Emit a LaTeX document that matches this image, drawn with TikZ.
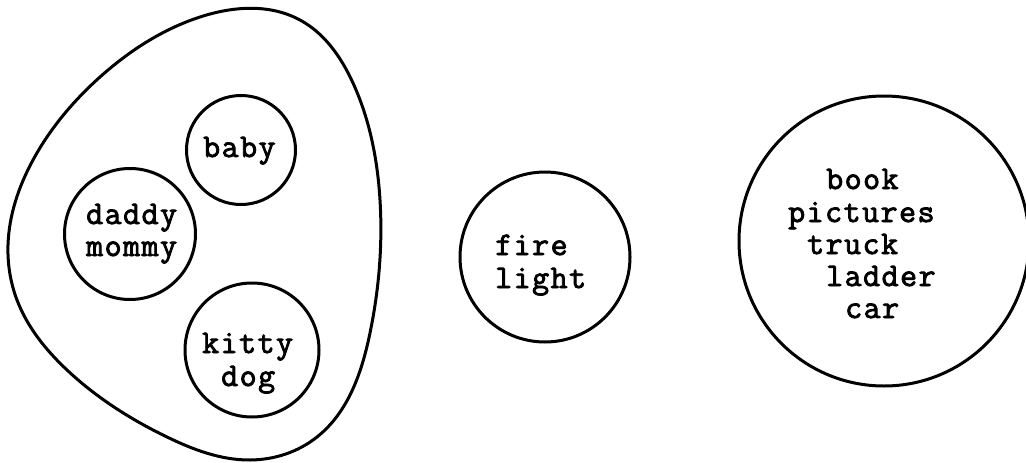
\documentclass[tikz,border=0pt]{standalone}
\usepackage{fontspec}
\usetikzlibrary{hobby}
\newfontfamily\tw{Latin Modern Mono}[FakeBold=2.5, LetterSpace=4.5]
\begin{document}
\begin{tikzpicture}[x=1pt,y=-1pt,
  ring/.style={draw, circle, line width=3pt, inner sep=0pt},
  word/.style={anchor=base west, inner sep=0pt, font=\tw\fontsize{33}{32}\selectfont}]
\useasboundingbox (0,0) rectangle (1026,463);
% egg outline
\draw[line width=3pt, use Hobby shortcut, closed=true]
 (8,245) .. (33,160) .. (100,77) .. (200,17) .. (300,20) .. (353,83)
 .. (380,200) .. (370,333) .. (317,437) .. (250,460) .. (167,437)
 .. (67,370) .. (17,300);
% circles
\node[ring, minimum size=109pt] (baby) at (241,150) {};
\node[ring, minimum size=131pt] (parents) at (130,234) {};
\node[ring, minimum size=134pt] (pets) at (252,350) {};
\node[ring, minimum size=170pt] (fire) at (545,257) {};
\node[ring, minimum size=290pt] (things) at (884,241) {};
% texts
\node[word] (tbaby) at (203,157) {baby};
\node[word] (tdaddy) at (86,224) {daddy};
\node[word] (tmommy) at (86,256) {mommy};
\node[word] (tkitty) at (202,353) {kitty};
\node[word] (tdog) at (221,386) {dog};
\node[word] (tfire) at (495,255) {fire};
\node[word] (tlight) at (495,288) {light};
\node[word] (tbook) at (826,189) {book};
\node[word] (tpictures) at (788,222) {pictures};
\node[word] (ttruck) at (807,254) {truck};
\node[word] (tladder) at (826,286) {ladder};
\node[word] (tcar) at (845,318) {car};
\end{tikzpicture}
\end{document}
